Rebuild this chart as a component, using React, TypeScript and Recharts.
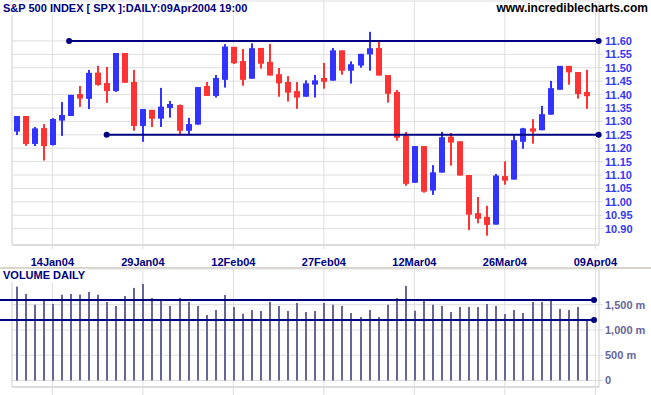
import React from 'react';
import {
  ComposedChart,
  Bar,
  XAxis,
  YAxis,
  CartesianGrid,
  ReferenceLine,
  ReferenceDot,
} from 'recharts';

const FONT = '"Liberation Sans", Arial, Helvetica, sans-serif';

const dates = [
  '08Jan04', '09Jan04', '12Jan04', '13Jan04', '14Jan04', '15Jan04', '16Jan04', '20Jan04', '21Jan04', '22Jan04',
  '23Jan04', '26Jan04', '27Jan04', '28Jan04', '29Jan04', '30Jan04', '02Feb04', '03Feb04', '04Feb04', '05Feb04',
  '06Feb04', '09Feb04', '10Feb04', '11Feb04', '12Feb04', '13Feb04', '17Feb04', '18Feb04', '19Feb04', '20Feb04',
  '23Feb04', '24Feb04', '25Feb04', '26Feb04', '27Feb04', '01Mar04', '02Mar04', '03Mar04', '04Mar04', '05Mar04',
  '08Mar04', '09Mar04', '10Mar04', '11Mar04', '12Mar04', '15Mar04', '16Mar04', '17Mar04', '18Mar04', '19Mar04',
  '22Mar04', '23Mar04', '24Mar04', '25Mar04', '26Mar04', '29Mar04', '30Mar04', '31Mar04', '01Apr04', '02Apr04',
  '05Apr04', '06Apr04', '07Apr04', '08Apr04',
];

const opens = [
  11.262, 11.320, 11.216, 11.275, 11.212, 11.303, 11.320, 11.402, 11.384, 11.482,
  11.443, 11.413, 11.555, 11.447, 11.283, 11.343, 11.310, 11.350, 11.361, 11.265,
  11.288, 11.432, 11.395, 11.455, 11.578, 11.525, 11.459, 11.574, 11.522, 11.476,
  11.447, 11.413, 11.392, 11.437, 11.462, 11.452, 11.565, 11.489, 11.508, 11.550,
  11.574, 11.473, 11.410, 11.247, 11.071, 11.208, 11.042, 11.109, 11.243, 11.226,
  11.100, 10.958, 10.944, 10.915, 11.096, 11.083, 11.224, 11.274, 11.267, 11.325,
  11.418, 11.507, 11.484, 11.410,
];

const highs = [
  11.320, 11.320, 11.279, 11.290, 11.312, 11.372, 11.399, 11.432, 11.492, 11.507,
  11.503, 11.555, 11.555, 11.492, 11.346, 11.343, 11.425, 11.376, 11.363, 11.313,
  11.428, 11.447, 11.473, 11.588, 11.578, 11.570, 11.591, 11.574, 11.589, 11.499,
  11.469, 11.447, 11.453, 11.473, 11.518, 11.574, 11.565, 11.524, 11.552, 11.634,
  11.600, 11.473, 11.417, 11.261, 11.208, 11.208, 11.137, 11.261, 11.257, 11.226,
  11.100, 11.018, 10.985, 11.104, 11.151, 11.249, 11.276, 11.308, 11.358, 11.451,
  11.507, 11.507, 11.484, 11.492,
];

const lows = [
  11.249, 11.209, 11.208, 11.154, 11.210, 11.246, 11.320, 11.354, 11.346, 11.433,
  11.369, 11.410, 11.444, 11.265, 11.224, 11.279, 11.279, 11.314, 11.249, 11.249,
  11.288, 11.395, 11.389, 11.426, 11.514, 11.433, 11.459, 11.497, 11.471, 11.392,
  11.374, 11.347, 11.392, 11.389, 11.422, 11.452, 11.474, 11.441, 11.500, 11.489,
  11.471, 11.370, 11.228, 11.060, 11.071, 11.034, 11.026, 11.109, 11.135, 11.098,
  10.895, 10.920, 10.874, 10.915, 11.064, 11.083, 11.198, 11.217, 11.267, 11.325,
  11.418, 11.437, 11.385, 11.347,
];

const closes = [
  11.320, 11.216, 11.274, 11.208, 11.309, 11.324, 11.399, 11.385, 11.481, 11.436,
  11.413, 11.555, 11.444, 11.283, 11.346, 11.310, 11.355, 11.365, 11.265, 11.290,
  11.428, 11.395, 11.462, 11.579, 11.517, 11.455, 11.573, 11.515, 11.471, 11.442,
  11.407, 11.389, 11.442, 11.453, 11.448, 11.565, 11.489, 11.513, 11.552, 11.573,
  11.471, 11.403, 11.239, 11.067, 11.208, 11.038, 11.110, 11.241, 11.221, 11.098,
  10.952, 10.937, 10.914, 11.098, 11.079, 11.230, 11.274, 11.262, 11.327, 11.424,
  11.507, 11.483, 11.402, 11.394,
];

// daily volume, millions of shares
const volumes = [
  1859, 1713, 1500, 1594, 1514, 1699, 1713, 1699, 1753, 1699,
  1554, 1474, 1673, 1833, 1912, 1633, 1594, 1474, 1633, 1554,
  1474, 1295, 1394, 1693, 1454, 1321, 1394, 1375, 1554, 1474,
  1375, 1534, 1355, 1375, 1534, 1500, 1474, 1335, 1255, 1394,
  1255, 1500, 1633, 1873, 1381, 1594, 1500, 1474, 1355, 1454,
  1454, 1454, 1514, 1474, 1315, 1394, 1335, 1554, 1554, 1614,
  1414, 1394, 1454, 1195,
];

const dateTicks = [4, 14, 24, 34, 44, 54, 64];
const dateTickLabels = ['14Jan04', '29Jan04', '12Feb04', '27Feb04', '12Mar04', '26Mar04', '09Apr04'];
const priceTicks = [10.9, 10.95, 11.0, 11.05, 11.1, 11.15, 11.2, 11.25, 11.3, 11.35, 11.4, 11.45, 11.5, 11.55, 11.6];
const volumeTicks = [0, 500, 1000, 1500];
const volumeTickLabels = ['0', '500 m', '1,000 m', '1,500 m'];

const xDomain = [-0.46, 64.4];
const priceDomain = [10.839, 11.749];
const volumeDomain = [-129, 2207];

const priceLevels = [
  { value: 11.6, from: 5.85, to: 64.36 },
  { value: 11.25, from: 10, to: 64.36 },
];
const volumeLevels = [
  { value: 1595, from: -1.8, to: 63.85 },
  { value: 1197, from: -1.8, to: 63.85 },
];

const rows = dates.map((d, i) => ({
  i,
  date: d,
  open: opens[i],
  high: highs[i],
  low: lows[i],
  close: closes[i],
  range: [lows[i], highs[i]],
  vol: volumes[i],
}));

const UP = '#3333ff';
const DOWN = '#ff3333';
const NAVY = '#000080';
const GRID = '#dedede';
const VOLC = '#666699';

const Candle = (props: any) => {
  const { x, y, width, height, payload } = props;
  if (!payload || x == null || y == null) return null;
  const { open, close, high, low } = payload;
  const cx = Math.round(x + width / 2);
  const span = high - low;
  const py = (v: number) => (span > 0 ? y + ((high - v) / span) * height : y);
  const color = close >= open ? UP : DOWN;
  const top = py(Math.max(open, close));
  const bot = py(Math.min(open, close));
  return (
    <g>
      <rect x={cx - 1} y={y} width={2} height={Math.max(height, 1)} fill={color} />
      <rect x={cx - 3} y={top} width={6} height={Math.max(bot - top, 1.5)} fill={color} />
    </g>
  );
};

const VolBar = (props: any) => {
  const { x, y, width, height } = props;
  if (x == null || y == null) return null;
  const cx = Math.round(x + width / 2);
  return <rect x={cx - 1} y={y} width={2} height={Math.max(height, 0)} fill={VOLC} />;
};

const DateTick = (props: any) => {
  const { x, y, payload } = props;
  const idx = dateTicks.indexOf(payload.value);
  return (
    <text x={x} y={y + 14.5} textAnchor="middle" fill={NAVY} fontFamily={FONT} fontWeight="bold" fontSize={11}>
      {idx >= 0 ? dateTickLabels[idx] : ''}
    </text>
  );
};

const EmptyTick = () => <g />;

const PriceTick = (props: any) => {
  const { x, y, payload } = props;
  return (
    <text x={x} y={y + 4} textAnchor="start" fill="#3838f0" fontFamily={FONT} fontWeight="bold" fontSize={11}>
      {Number(payload.value).toFixed(2)}
    </text>
  );
};

const VolTick = (props: any) => {
  const { x, y, payload } = props;
  const idx = volumeTicks.indexOf(payload.value);
  return (
    <text x={x} y={y + 4} textAnchor="start" fill={VOLC} fontFamily={FONT} fontWeight="bold" fontSize={11}>
      {idx >= 0 ? volumeTickLabels[idx] : ''}
    </text>
  );
};

export default function App() {
  return (
    <div style={{ position: 'absolute', left: 0, top: 0, width: 651, height: 395, background: '#fff', overflow: 'hidden' }}>
      <div style={{ position: 'absolute', left: 0, top: 0 }}>
        <ComposedChart width={651} height={268} data={rows} margin={{ top: 1, right: 0, bottom: 0, left: 12 }}>
          <CartesianGrid stroke={GRID} />
          <XAxis
            dataKey="i"
            type="number"
            domain={xDomain}
            ticks={dateTicks}
            interval={0}
            height={23}
            allowDataOverflow
            axisLine={{ stroke: '#dcdcdc', strokeWidth: 2 }}
            tickLine={{ stroke: '#dcdcdc' }}
            tickSize={4}
            tick={<DateTick />}
          />
          <YAxis
            orientation="right"
            type="number"
            domain={priceDomain}
            ticks={priceTicks}
            interval={0}
            width={52}
            allowDataOverflow
            axisLine={{ stroke: '#dcdcdc' }}
            tickLine={{ stroke: '#dcdcdc' }}
            tickSize={4}
            tickMargin={2}
            tick={<PriceTick />}
          />
          <ReferenceLine x={xDomain[0]} stroke="#dcdcdc" />
          {priceLevels.map((l, k) => (
            <ReferenceLine
              key={'pl' + k}
              segment={[{ x: l.from, y: l.value }, { x: l.to, y: l.value }]}
              stroke={NAVY}
              strokeWidth={2}
              ifOverflow="visible"
            />
          ))}
          <Bar dataKey="range" barSize={6} shape={<Candle />} isAnimationActive={false} />
          {priceLevels.map((l, k) => (
            <ReferenceDot key={'pa' + k} x={l.from} y={l.value} r={3} fill={NAVY} stroke="none" ifOverflow="visible" />
          ))}
          {priceLevels.map((l, k) => (
            <ReferenceDot key={'pb' + k} x={l.to} y={l.value} r={3} fill={NAVY} stroke="none" ifOverflow="visible" />
          ))}
        </ComposedChart>
      </div>

      <div style={{ position: 'absolute', left: 0, top: 267, width: 651, height: 2, background: '#d8d4cc' }} />

      <div style={{ position: 'absolute', left: 0, top: 268 }}>
        <ComposedChart width={651} height={127} data={rows} margin={{ top: 1, right: 0, bottom: 0, left: 12 }}>
          <CartesianGrid stroke={GRID} />
          <XAxis
            dataKey="i"
            type="number"
            domain={xDomain}
            ticks={dateTicks}
            interval={0}
            height={8}
            allowDataOverflow
            axisLine={{ stroke: '#dcdcdc', strokeWidth: 2 }}
            tickLine={{ stroke: '#dcdcdc' }}
            tickSize={8}
            tick={<EmptyTick />}
          />
          <YAxis
            orientation="right"
            type="number"
            domain={volumeDomain}
            ticks={volumeTicks}
            interval={0}
            width={52}
            allowDataOverflow
            axisLine={{ stroke: '#dcdcdc' }}
            tickLine={{ stroke: '#dcdcdc' }}
            tickSize={4}
            tickMargin={2}
            tick={<VolTick />}
          />
          <ReferenceLine x={xDomain[0]} stroke="#dcdcdc" />
          <Bar dataKey="vol" barSize={2} shape={<VolBar />} isAnimationActive={false} />
          {volumeLevels.map((l, k) => (
            <ReferenceLine
              key={'vl' + k}
              segment={[{ x: l.from, y: l.value }, { x: l.to, y: l.value }]}
              stroke={NAVY}
              strokeWidth={2}
              ifOverflow="visible"
            />
          ))}
          {volumeLevels.map((l, k) => (
            <ReferenceDot key={'vd' + k} x={l.to} y={l.value} r={3} fill={NAVY} stroke="none" ifOverflow="visible" />
          ))}
        </ComposedChart>
      </div>

      <div
        style={{
          position: 'absolute', left: 3, top: 2, fontFamily: FONT, fontWeight: 'bold', fontSize: 11,
          lineHeight: '13px', color: NAVY, background: '#fff', paddingRight: 2, whiteSpace: 'nowrap',
        }}
      >
        S&amp;P 500 INDEX [ SPX ]:DAILY:09Apr2004 19:00
      </div>
      <div
        style={{
          position: 'absolute', left: 0, top: 1, width: 648, textAlign: 'right', fontFamily: FONT, fontWeight: 'bold',
          fontSize: 12, lineHeight: '14px', color: '#000', whiteSpace: 'nowrap',
        }}
      >
        www.incrediblecharts.com
      </div>
      <div
        style={{
          position: 'absolute', left: 3, top: 269, fontFamily: FONT, fontWeight: 'bold', fontSize: 11,
          lineHeight: '13px', color: NAVY, background: '#fff', paddingRight: 2, whiteSpace: 'nowrap',
        }}
      >
        VOLUME DAILY
      </div>
    </div>
  );
}
